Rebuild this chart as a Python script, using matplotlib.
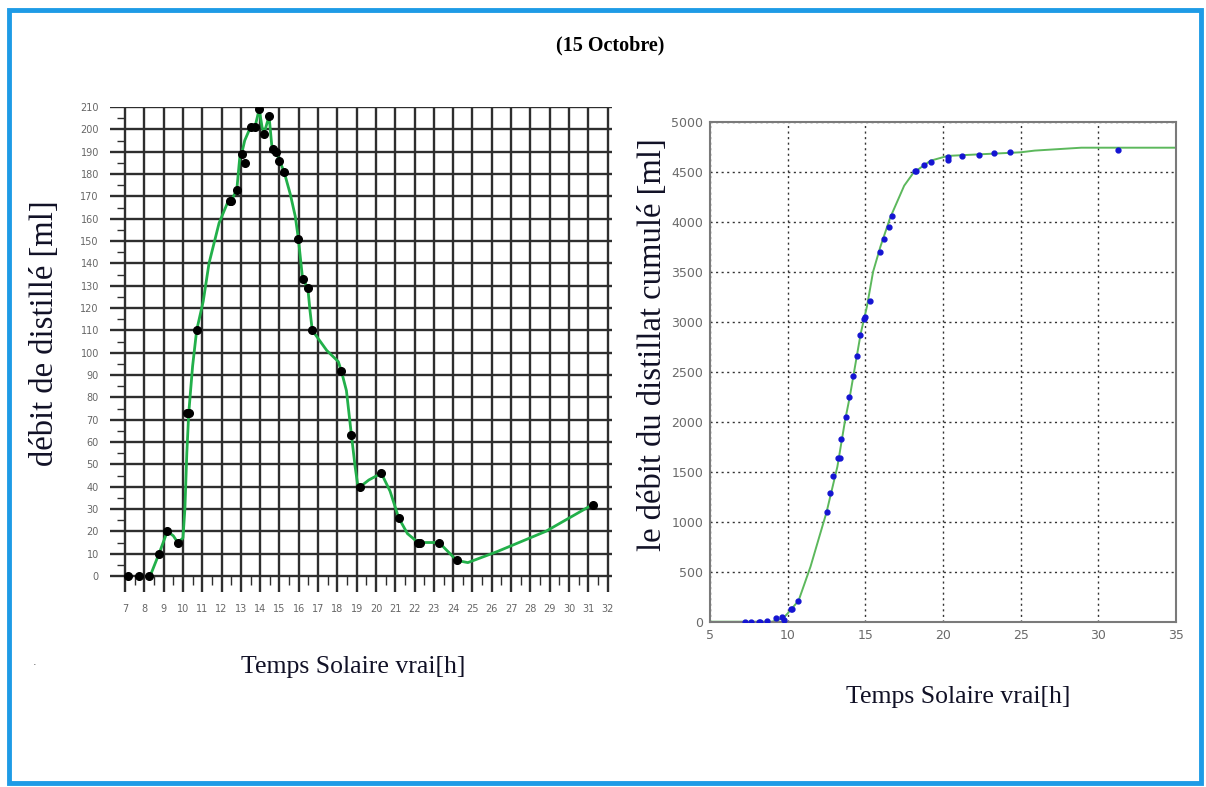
import numpy as np
import matplotlib
matplotlib.use("Agg")
from matplotlib import pyplot as plt
from matplotlib.patches import Rectangle

# left chart: distillate flow (black dots) and the fitted green curve
flow_t = [7.17, 7.73, 8.26, 8.76, 9.19, 9.73, 10.19, 10.3, 10.71, 12.44, 12.5, 12.79,
          13.04, 13.24, 13.5, 13.73, 13.95, 14.2, 14.46, 14.68, 14.82, 15.0, 15.24,
          15.98, 16.2, 16.47, 16.7, 18.2, 18.73, 19.19, 20.28, 21.18, 22.18, 22.3,
          23.27, 24.18, 31.23]
flow_v = [0, 0, 0, 10, 20, 15, 73, 73, 110, 168, 168, 173, 189, 185, 201, 201, 209,
          198, 206, 191, 190, 186, 181, 151, 133, 129, 110, 92, 63, 40, 46, 26, 15, 15,
          15, 7, 32]
flow_curve_t = [8.3, 8.76, 9.19, 9.5, 9.73, 10.0, 10.1, 10.2, 10.3, 10.5, 10.71, 11.05,
                11.35, 11.87, 12.35, 12.5, 12.79, 12.95, 13.04, 13.2, 13.5, 13.73, 13.95,
                14.1, 14.2, 14.46, 14.6, 14.82, 15.0, 15.24, 15.56, 15.82, 15.98, 16.2,
                16.47, 16.58, 16.7, 17.45, 18.05, 18.2, 18.47, 18.73, 18.92, 19.05, 19.19,
                19.63, 20.28, 20.73, 21.18, 21.63, 22.18, 23.27, 24.18, 24.76, 26.3, 28.8,
                31.23]
flow_curve_v = [0, 10, 20, 18, 15, 17, 30, 55, 73, 94, 110, 123, 140, 158, 168, 168,
                173, 188, 189, 195, 201, 201, 209, 201, 198, 206, 193, 190, 186, 181, 171,
                161, 151, 133, 129, 119, 110, 101, 96, 92, 83, 63, 49, 41, 40, 43, 46, 38,
                26, 19, 15, 15, 7, 6, 11, 20, 32]

# right chart: cumulated distillate (blue dots) and green curve
cum_t = [7.24, 7.67, 8.16, 8.2, 8.7, 9.23, 9.66, 9.75, 10.2, 10.28, 10.69, 12.5, 12.71,
         12.93, 13.25, 13.35, 13.46, 13.76, 13.97, 14.18, 14.46, 14.68, 14.94, 15.0,
         15.28, 15.93, 16.19, 16.51, 16.72, 18.17, 18.29, 18.77, 19.2, 20.32, 20.35,
         21.24, 22.31, 23.27, 24.34, 31.28]
cum_v = [0, 0, 0, 0, 10, 33, 43, 20, 123, 123, 210, 1093, 1283, 1457, 1633, 1633, 1823,
         2043, 2250, 2457, 2655, 2870, 3030, 3050, 3205, 3695, 3828, 3944, 4060, 4507,
         4510, 4563, 4595, 4650, 4620, 4655, 4670, 4685, 4695, 4720]
cum_curve_t = [5, 9.0, 9.7, 10.0, 10.7, 11.47, 12.1, 12.5, 13.2, 13.7, 14.0, 14.7, 15.1,
               15.5, 15.97, 16.6, 17.5, 18.1, 19.2, 20.3, 25.0, 25.9, 28.9, 35]
cum_curve_v = [0, 0, 33, 83, 210, 550, 883, 1093, 1550, 2017, 2250, 2880, 3150, 3500,
               3750, 4040, 4360, 4490, 4610, 4658, 4694, 4711, 4740, 4740]

left_hours = list(range(7, 33))
left_levels = list(range(0, 220, 10))
right_hours = [5, 10, 15, 20, 25, 30, 35]
right_levels = list(range(0, 5500, 500))

W, H = 1206, 787
fig = plt.figure(figsize=(W / 100, H / 100), dpi=100)

def box(l, r, t, b):
    return [l / W, 1 - b / H, (r - l) / W, (b - t) / H]

serif = "Liberation Serif"
label_color = "#111126"

# frame around the whole picture
fig.patches.append(Rectangle((9 / W, 4 / H), 1192 / W, 773 / H, transform=fig.transFigure,
                             fill=False, edgecolor="#1e9be6", linewidth=3.5))

# ---------------- left chart ----------------
ax1 = fig.add_axes(box(110, 612, 107, 592))
ax1.set_xlim(6.22, 32.23)
ax1.set_ylim(-7.16, 210)
for s in ax1.spines.values():
    s.set_visible(False)
grid_c = "#2e2e2e"
ax1.vlines(left_hours, -7.16, 210, color=grid_c, lw=1.7, zorder=1)
ax1.hlines(left_levels, 6.22, 32.23, color=grid_c, lw=1.7, zorder=1)
ax1.hlines([v + 5 for v in left_levels[:-1]], 6.6, 7, color=grid_c, lw=1.0, zorder=1)
ax1.vlines([h + 0.5 for h in left_hours[:-1]], -4, 0, color=grid_c, lw=1.0, zorder=1)
ax1.plot(flow_curve_t, flow_curve_v, color="#22b04a", lw=2.0, zorder=2)
ax1.plot(flow_t, flow_v, "o", color="black", ms=5.5, zorder=3)
ax1.set_xticks(left_hours)
ax1.set_xticklabels([str(h) for h in left_hours])
ax1.set_yticks(left_levels)
ax1.set_yticklabels([str(v) for v in left_levels])
ax1.tick_params(length=0, labelsize=7, labelcolor="#666666")
ax1.tick_params(axis="x", pad=9)
ax1.tick_params(axis="y", pad=8)

fig.text(45 / W, 1 - 333 / H, "débit de distillé [ml]", rotation=90, ha="center",
         va="center", family=serif, fontsize=23.5, color=label_color)
fig.text(353 / W, 1 - 667 / H, "Temps Solaire vrai[h]", ha="center", va="center",
         family=serif, fontsize=18.5, color=label_color)
fig.text(35 / W, 1 - 662 / H, ".", ha="center", va="center", fontsize=8, color="#555555")

# ---------------- right chart ----------------
ax2 = fig.add_axes(box(710, 1176, 121.7, 621.7))
ax2.set_xlim(5, 35)
ax2.set_ylim(0, 5000)
for s in ax2.spines.values():
    s.set_color("#7a7a7a")
    s.set_linewidth(1.5)
ax2.set_xticks(right_hours)
ax2.set_yticks(right_levels)
ax2.grid(True, color="#333333", linestyle=(0, (1.5, 2.5)), linewidth=1.0)
ax2.tick_params(length=0, labelsize=9, labelcolor="#6a6a6a", pad=5)
ax2.plot(cum_curve_t, cum_curve_v, color="#5cb85c", lw=1.4, zorder=2)
ax2.plot(cum_t, cum_v, "o", color="#1414d2", ms=3.5, zorder=3)

fig.text(653 / W, 1 - 345 / H, "le débit du distillat cumulé [ml]", rotation=90,
         ha="center", va="center", family=serif, fontsize=23.5, color=label_color)
fig.text(958 / W, 1 - 697 / H, "Temps Solaire vrai[h]", ha="center", va="center",
         family=serif, fontsize=18.5, color=label_color)

fig.text(610 / W, 1 - 45 / H, "(15 Octobre)", ha="center", va="center", family=serif,
         fontsize=14.5, fontweight="bold", color="black")

fig.savefig("out.png", dpi=100)
